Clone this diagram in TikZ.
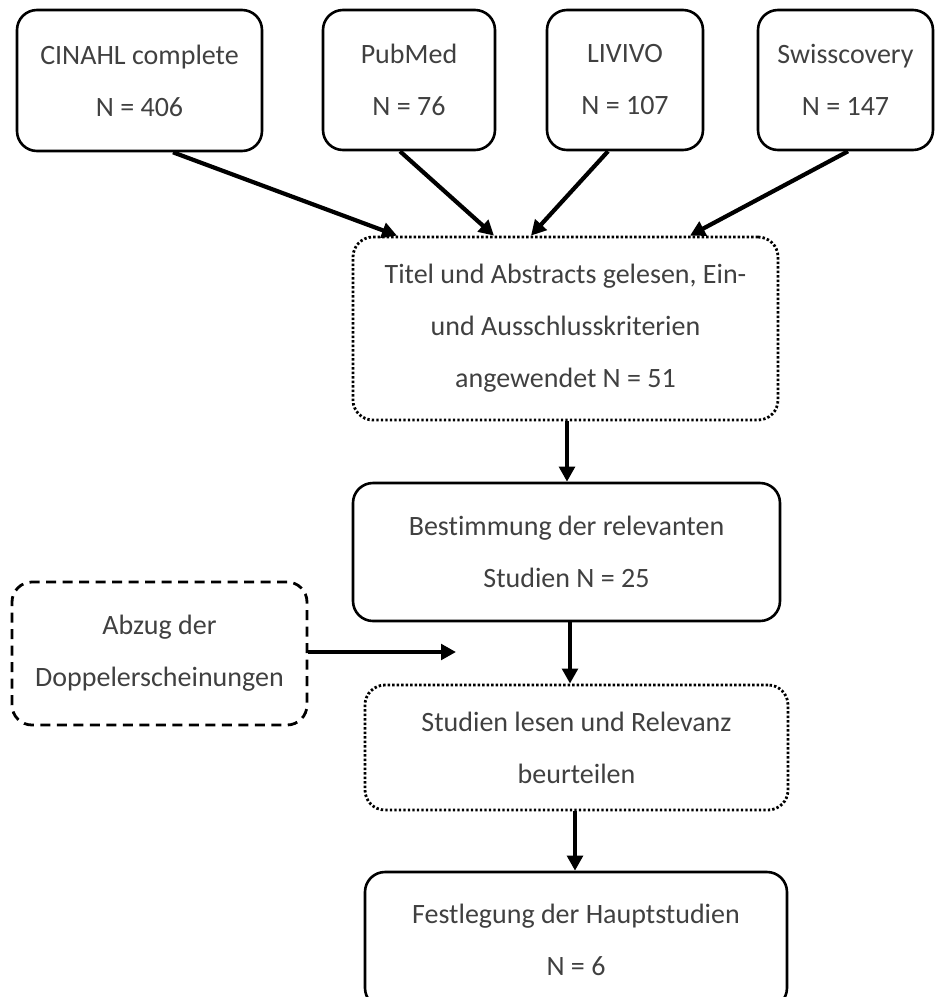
\documentclass[tikz,border=0pt]{standalone}
\usepackage{fontspec}
\setmainfont[Ligatures=CommonOff]{Carlito}
\usetikzlibrary{arrows.meta}
\definecolor{txt}{HTML}{404040}
\tikzset{
  box/.style={draw=black, line width=2.6pt, rounded corners=20pt, align=center,
    text=txt, font=\fontsize{28}{52}\selectfont, inner sep=0pt},
  solidbox/.style={box},
  dotbox/.style={box, line width=2.8pt, dash pattern=on 2.4pt off 2.1pt},
  dashbox/.style={box, line width=2.8pt, dash pattern=on 10pt off 6.5pt},
  arr/.style={line width=4.2pt, -{Triangle[length=15pt,width=15.5pt]}},
}
\begin{document}
\begin{tikzpicture}[x=1pt,y=-1pt]
\useasboundingbox (0,0) rectangle (936,997);
\clip (0,0) rectangle (936,997);
\node[solidbox, minimum width=245pt, minimum height=141pt] (cin) at (139.5,80.5) {CINAHL complete\\N = 406};
\node[solidbox, minimum width=172pt, minimum height=140pt] (pub) at (409,80) {PubMed\\N = 76};
\node[solidbox, minimum width=156pt, minimum height=140pt] (liv) at (625,80) {LIVIVO\\N = 107};
\node[solidbox, minimum width=175pt, minimum height=140pt] (swi) at (845.5,80) {Swisscovery\\N = 147};
\node[dotbox, minimum width=425pt, minimum height=183pt] (mid) at (565.5,328.5) {Titel und Abstracts gelesen, Ein-\\und Ausschlusskriterien\\angewendet N = 51};
\node[solidbox, minimum width=427pt, minimum height=138pt] (bes) at (566.5,552) {Bestimmung der relevanten\\Studien N = 25};
\node[dashbox, minimum width=295pt, minimum height=143pt] (abz) at (159.5,653.5) {Abzug der\\Doppelerscheinungen};
\node[dotbox, minimum width=423pt, minimum height=125pt] (stu) at (576.5,747.5) {Studien lesen und Relevanz\\beurteilen};
\node[solidbox, minimum width=422pt, minimum height=136pt] (fes) at (576,940) {Festlegung der Hauptstudien\\N = 6};
\coordinate (abzend) at (456,652);

\draw[arr] ([xshift=33.5pt]cin.south) -- ([xshift=-168.5pt]mid.north);
\draw[arr] ([xshift=-9pt]pub.south) -- ([xshift=-71.5pt]mid.north);
\draw[arr] ([xshift=-17pt]liv.south) -- ([xshift=-34.5pt]mid.north);
\draw[arr] ([xshift=2.5pt]swi.south) -- ([xshift=124.5pt]mid.north);
\draw[arr] ([xshift=1.5pt]mid.south) -- ([xshift=0.5pt]bes.north);
\draw[arr] ([xshift=3.5pt]bes.south) -- ([xshift=-6.5pt]stu.north);
\draw[arr] ([xshift=-1.5pt]stu.south) -- ([xshift=-1pt]fes.north);
\draw[arr] ([yshift=1.5pt]abz.east) -- (abzend);
\end{tikzpicture}
\end{document}
